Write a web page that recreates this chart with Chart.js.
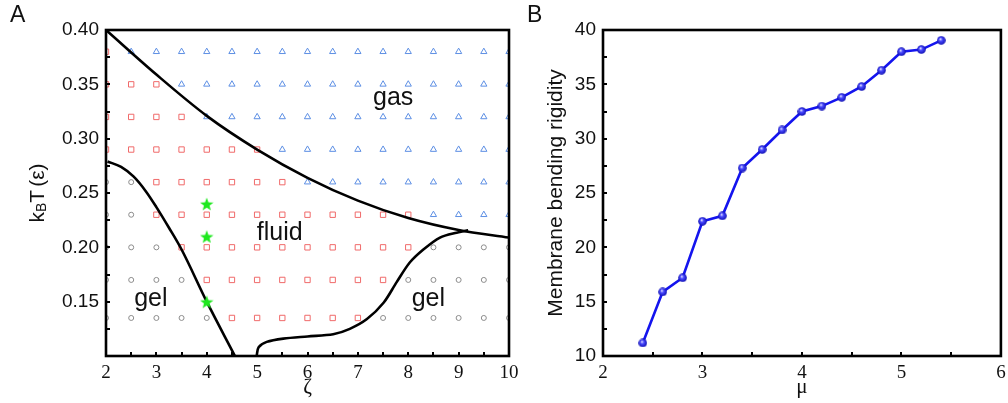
<!DOCTYPE html>
<html>
<head>
<meta charset="utf-8">
<script src="https://cdn.jsdelivr.net/npm/chart.js@4.4.0/dist/chart.umd.min.js"></script>
<style>
  body { margin: 0; background: #fff; width: 1008px; height: 403px; overflow: hidden; position: relative; }
  #phaseWrap { position: absolute; left: 0; top: 0; width: 520px; height: 403px; }
  #rigidWrap { position: absolute; left: 520px; top: 0; width: 488px; height: 403px; }
  .panel-tag { position: absolute; top: 1px; font: 23px "Liberation Sans", Arial, sans-serif; color: #111; }
</style>
</head>
<body>
<div id="phaseWrap"><canvas id="phaseChart" width="520" height="403"></canvas></div>
<div id="rigidWrap"><canvas id="rigidChart" width="488" height="403"></canvas></div>
<div class="panel-tag" style="left:10px">A</div>
<div class="panel-tag" style="left:527px">B</div>
<script>
// ---------- panel A : phase diagram ----------
const zetaCols = [2, 2.5, 3, 3.5, 4, 4.5, 5, 5.5, 6, 6.5, 7, 7.5, 8, 8.5, 9, 9.5, 10];
const tempRows = [0.38, 0.35, 0.32, 0.29, 0.26, 0.23, 0.20, 0.17, 0.135];
// one string per row, one letter per column: g = gas, f = fluid, l = gel
const phaseRows = [
    'fgggggggggggggggg',
    'fffgggggggggggggg',
    'ffffggggggggggggg',
    'fffffffgggggggggg',
    'llffffffggggggggg',
    'llfffffffffffgggg',
    'lllffffffffffllll',
    'llllfffffffflllll',
    'lllllffffffllllll'
];

// phase boundaries
const gasFluidZeta = [2, 3, 4, 5, 6, 7, 8, 9, 10];
const gasFluidTemp = [0.400, 0.359, 0.321, 0.290, 0.264, 0.243, 0.227, 0.216, 0.209];
const leftGelZeta = [2.03, 2.3, 2.55, 2.8, 3.0, 3.25, 3.5, 4.0, 4.56];
const leftGelTemp = [0.279, 0.274, 0.265, 0.251, 0.237, 0.218, 0.198, 0.150, 0.100];
const rightGelZeta = [4.99, 5.03, 5.19, 5.52, 6.0, 6.51, 6.84, 7.18, 7.51, 7.77, 8.03, 8.30, 8.63, 8.96, 9.19];
const rightGelTemp = [0.100, 0.108, 0.113, 0.116, 0.118, 0.120, 0.125, 0.134, 0.149, 0.168, 0.186, 0.198, 0.209, 0.2135, 0.2156];

// green stars
const starZeta = [4, 4, 4];
const starTemp = [0.24, 0.21, 0.15];

// region names (anchored at text baseline)
const phaseNames = ['gas', 'fluid', 'gel', 'gel'];
const phaseNameZeta = [7.70, 5.45, 2.89, 8.40];
const phaseNameTemp = [0.331, 0.207, 0.1456, 0.1456];

const phaseXTicks = [2, 3, 4, 5, 6, 7, 8, 9, 10];
const phaseXMinor = [2.5, 3.5, 4.5, 5.5, 6.5, 7.5, 8.5, 9.5];
const phaseYTicks = [0.15, 0.20, 0.25, 0.30, 0.35, 0.40];
const phaseYMinor = [0.125, 0.175, 0.225, 0.275, 0.325, 0.375];

// ---------- panel B : bending rigidity ----------
const muValues = [2.4, 2.6, 2.8, 3.0, 3.2, 3.4, 3.6, 3.8, 4.0, 4.2, 4.4, 4.6, 4.8, 5.0, 5.2, 5.4];
const rigidity = [11.2, 15.9, 17.2, 22.4, 22.9, 27.3, 29.0, 30.8, 32.5, 33.0, 33.8, 34.8, 36.3, 38.0, 38.2, 39.05];

const rigidXTicks = [2, 3, 4, 5, 6];
const rigidXMinor = [2.5, 3.5, 4.5, 5.5];
const rigidYTicks = [10, 15, 20, 25, 30, 35, 40];
const rigidYMinor = [12.5, 17.5, 22.5, 27.5, 32.5, 37.5];

const SANS = '"Liberation Sans", Arial, sans-serif';
const SERIF = '"Liberation Serif", "Times New Roman", serif';

function pairs(xs, ys) {
    return xs.map((v, i) => ({ x: v, y: ys[i] }));
}

function phasePoints(code) {
    const pts = [];
    tempRows.forEach((t, r) => {
        zetaCols.forEach((z, c) => {
            if (phaseRows[r][c] === code) pts.push({ x: z, y: t });
        });
    });
    return pts;
}

function makeStar(size, color) {
    const c = document.createElement('canvas');
    c.width = c.height = size;
    const g = c.getContext('2d');
    const r = size / 2, ri = r * 0.42;
    g.beginPath();
    for (let i = 0; i < 10; i++) {
        const a = -Math.PI / 2 + i * Math.PI / 5;
        const rr = i % 2 ? ri : r;
        g.lineTo(r + rr * Math.cos(a), r + 0.8 + rr * Math.sin(a));
    }
    g.closePath();
    g.fillStyle = color;
    g.fill();
    return c;
}

function makeBead(d) {
    const c = document.createElement('canvas');
    c.width = c.height = d;
    const g = c.getContext('2d');
    const r = d / 2;
    const grad = g.createRadialGradient(r * 0.8, r * 0.7, 0.3, r, r, r);
    grad.addColorStop(0, '#e0e0ff');
    grad.addColorStop(0.35, '#4a4aff');
    grad.addColorStop(1, '#0c0cb0');
    g.fillStyle = grad;
    g.beginPath();
    g.arc(r, r, r - 0.2, 0, Math.PI * 2);
    g.fill();
    return c;
}

// box around the plot + short inward ticks
const framePlugin = {
    id: 'frame',
    afterDatasetsDraw(chart, args, opts) {
        const { ctx, chartArea: a, scales } = chart;
        ctx.save();
        ctx.strokeStyle = '#000';
        ctx.lineWidth = 2;
        ctx.beginPath();
        const len = 4;
        opts.xTicks.concat(opts.xMinor).forEach(v => {
            const px = Math.round(scales.x.getPixelForValue(v));
            ctx.moveTo(px, a.bottom);
            ctx.lineTo(px, a.bottom - len);
        });
        opts.yTicks.concat(opts.yMinor).forEach(v => {
            const py = Math.round(scales.y.getPixelForValue(v));
            ctx.moveTo(a.left, py);
            ctx.lineTo(a.left + len, py);
        });
        ctx.stroke();
        ctx.lineWidth = 2.6;
        ctx.strokeRect(a.left, a.top, a.right - a.left, a.bottom - a.top);
        ctx.restore();
    }
};

const phaseText = {
    id: 'phaseText',
    afterDatasetsDraw(chart) {
        const { ctx, scales: { x, y } } = chart;
        ctx.save();
        ctx.font = '25px ' + SANS;
        ctx.fillStyle = '#111';
        ctx.textAlign = 'center';
        ctx.textBaseline = 'alphabetic';
        phaseNames.forEach((t, i) => {
            ctx.fillText(t, x.getPixelForValue(phaseNameZeta[i]), y.getPixelForValue(phaseNameTemp[i]));
        });
        ctx.restore();
    }
};

// y title k_BT (ε) with a subscript
const kbtTitle = {
    id: 'kbtTitle',
    afterDraw(chart) {
        const ctx = chart.ctx;
        const big = '21px ' + SANS, small = '14px ' + SANS;
        ctx.save();
        ctx.translate(44, 193);
        ctx.rotate(-Math.PI / 2);
        ctx.fillStyle = '#111';
        ctx.font = big;
        const wk = ctx.measureText('k').width;
        const wt = ctx.measureText('T').width;
        const wp = ctx.measureText('(ε)').width;
        ctx.font = small;
        const wb = ctx.measureText('B').width;
        const gap = 3;
        let pos = -(wk + wb + wt + gap + wp) / 2;
        ctx.font = big;
        ctx.fillText('k', pos, 0); pos += wk;
        ctx.font = small;
        ctx.fillText('B', pos, 2); pos += wb;
        ctx.font = big;
        ctx.fillText('T', pos, 0); pos += wt + gap;
        ctx.fillText('(ε)', pos, 0);
        ctx.restore();
    }
};

function fixWidth(w) {
    return s => { s.width = w; s.paddingTop = 0; s.paddingBottom = 0; };
}
function fixHeight(h) {
    return s => { s.height = h; s.paddingLeft = 0; s.paddingRight = 0; };
}

const starImg = makeStar(14, '#1ee81e');
const beadImg = makeBead(9);

new Chart(document.getElementById('phaseChart').getContext('2d'), {
    type: 'scatter',
    data: {
        datasets: [
            {
                label: 'gas',
                data: phasePoints('g'),
                pointStyle: 'triangle',
                pointRadius: 3.6,
                borderWidth: 1,
                borderColor: '#5d8fe4',
                backgroundColor: 'transparent',
                clip: 0,
                order: 3
            },
            {
                label: 'fluid',
                data: phasePoints('f'),
                pointStyle: 'rect',
                pointRadius: 3.8,
                borderWidth: 1,
                borderColor: '#f06a6a',
                backgroundColor: 'transparent',
                clip: 0,
                order: 3
            },
            {
                label: 'gel',
                data: phasePoints('l'),
                pointStyle: 'circle',
                pointRadius: 2.5,
                borderWidth: 1,
                borderColor: '#8c8c8c',
                backgroundColor: 'transparent',
                clip: 0,
                order: 3
            },
            {
                label: 'gas/fluid boundary',
                data: pairs(gasFluidZeta, gasFluidTemp),
                showLine: true,
                borderColor: '#000',
                borderWidth: 2.6,
                pointRadius: 0,
                cubicInterpolationMode: 'monotone',
                clip: 0,
                order: 2
            },
            {
                label: 'left gel boundary',
                data: pairs(leftGelZeta, leftGelTemp),
                showLine: true,
                borderColor: '#000',
                borderWidth: 2.6,
                pointRadius: 0,
                cubicInterpolationMode: 'monotone',
                clip: 0,
                order: 2
            },
            {
                label: 'right gel boundary',
                data: pairs(rightGelZeta, rightGelTemp),
                showLine: true,
                borderColor: '#000',
                borderWidth: 2.6,
                pointRadius: 0,
                tension: 0.3,
                clip: 0,
                order: 2
            },
            {
                label: 'stars',
                data: pairs(starZeta, starTemp),
                pointStyle: starImg,
                pointRadius: 7,
                order: 1
            }
        ]
    },
    options: {
        responsive: false,
        animation: false,
        events: [],
        layout: { padding: { left: 0, top: 30, right: 11, bottom: 0 } },
        plugins: {
            legend: { display: false },
            tooltip: { enabled: false },
            frame: { xTicks: phaseXTicks, xMinor: phaseXMinor, yTicks: phaseYTicks, yMinor: phaseYMinor }
        },
        scales: {
            x: {
                type: 'linear',
                min: 2,
                max: 10,
                afterBuildTicks: s => { s.ticks = phaseXTicks.map(v => ({ value: v })); },
                afterFit: fixHeight(47),
                grid: { display: false, drawTicks: false },
                border: { display: false },
                ticks: { color: '#111', font: { family: SERIF, size: 19 }, padding: 6, maxRotation: 0, autoSkip: false },
                title: { display: true, text: 'ζ', color: '#111', font: { family: SERIF, size: 21 }, padding: { top: 0, bottom: 3 } }
            },
            y: {
                type: 'linear',
                min: 0.10,
                max: 0.40,
                afterBuildTicks: s => { s.ticks = phaseYTicks.map(v => ({ value: v })); },
                afterFit: fixWidth(106),
                grid: { display: false, drawTicks: false },
                border: { display: false },
                ticks: { color: '#111', font: { family: SANS, size: 19 }, padding: 7, callback: v => v.toFixed(2) }
            }
        }
    },
    plugins: [framePlugin, phaseText, kbtTitle]
});

new Chart(document.getElementById('rigidChart').getContext('2d'), {
    type: 'scatter',
    data: {
        datasets: [{
            label: 'Membrane bending rigidity',
            data: pairs(muValues, rigidity),
            showLine: true,
            borderColor: '#1414ee',
            borderWidth: 2.6,
            pointStyle: beadImg,
            pointRadius: 4.5,
            tension: 0
        }]
    },
    options: {
        responsive: false,
        animation: false,
        events: [],
        layout: { padding: { left: 0, top: 30, right: 3, bottom: 0 } },
        plugins: {
            legend: { display: false },
            tooltip: { enabled: false },
            frame: { xTicks: rigidXTicks, xMinor: rigidXMinor, yTicks: rigidYTicks, yMinor: rigidYMinor }
        },
        scales: {
            x: {
                type: 'linear',
                min: 2,
                max: 6,
                afterBuildTicks: s => { s.ticks = rigidXTicks.map(v => ({ value: v })); },
                afterFit: fixHeight(47),
                grid: { display: false, drawTicks: false },
                border: { display: false },
                ticks: { color: '#111', font: { family: SERIF, size: 19 }, padding: 6, maxRotation: 0, autoSkip: false },
                title: { display: true, text: 'μ', color: '#111', font: { family: SERIF, size: 21 }, padding: { top: 0, bottom: 3 } }
            },
            y: {
                type: 'linear',
                min: 10,
                max: 40,
                afterBuildTicks: s => { s.ticks = rigidYTicks.map(v => ({ value: v })); },
                afterFit: fixWidth(83),
                grid: { display: false, drawTicks: false },
                border: { display: false },
                ticks: { color: '#111', font: { family: SANS, size: 19 }, padding: 7 },
                title: { display: true, text: 'Membrane bending rigidity', color: '#111', font: { family: SANS, size: 21 }, padding: { top: 24, bottom: 0 } }
            }
        }
    },
    plugins: [framePlugin]
});
</script>
</body>
</html>
